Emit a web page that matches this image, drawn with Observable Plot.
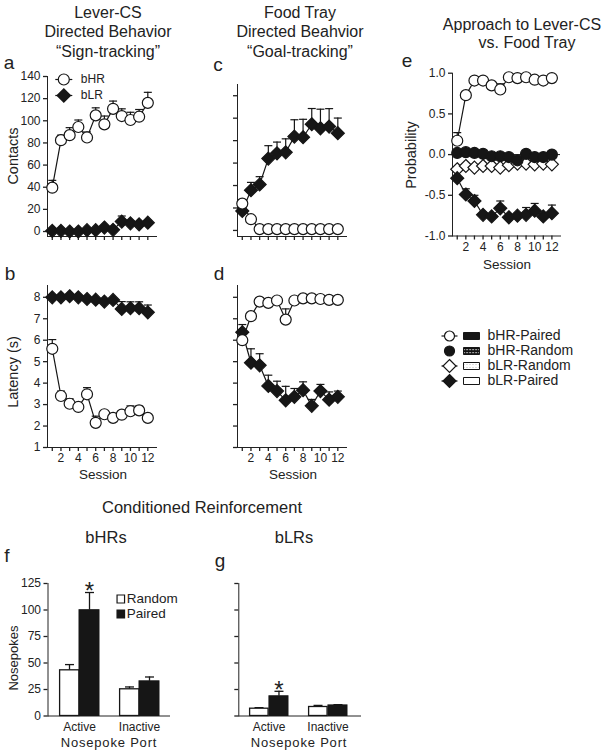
<!DOCTYPE html>
<html>
<head>
<meta charset="utf-8">
<script src="https://cdn.jsdelivr.net/npm/d3@7"></script>
<script src="https://cdn.jsdelivr.net/npm/@observablehq/plot@0.6"></script>
<style>
  body { margin: 0; background: #fff; }
  #root { position: relative; width: 612px; height: 754px; overflow: hidden; background: #fff;
          font-family: Arial, "Liberation Sans", Helvetica, sans-serif; color: #222; }
  .lbl { position: absolute; white-space: nowrap; line-height: 1; transform: translate(-50%, -50%); }
</style>
</head>
<body>
<svg width="0" height="0" style="position:absolute">
  <defs>
    <pattern id="check" width="3" height="3" patternUnits="userSpaceOnUse">
      <rect width="3" height="3" fill="#111"></rect>
      <rect x="1" y="1" width="1.2" height="1.2" fill="#fff"></rect>
    </pattern>
    <pattern id="dots" width="3" height="3" patternUnits="userSpaceOnUse">
      <rect width="3" height="3" fill="#fff"></rect>
      <rect x="1" y="1" width="1" height="1" fill="#bbb"></rect>
    </pattern>
  </defs>
</svg>
<div id="root"></div>
<script>
// ---------------- DATA ----------------
const sessions = [1, 2, 3, 4, 5, 6, 7, 8, 9, 10, 11, 12];

// a: Lever-CS contacts
const leverContactsHR    = [39.6, 82.5, 87, 94.4, 84.9, 104.9, 96.8, 110.8, 104.3, 100.7, 103.7, 116.2];
const leverContactsHRErr = [6.6, 4.5, 6.8, 6.3, 5, 6.8, 7.5, 7, 6.5, 7, 6.5, 9.5];
const leverContactsLR    = [0.6, 0.6, 0, 0, 1.2, 1.2, 3.6, 1.5, 9, 7.4, 6.5, 8];
const leverContactsLRErr = [1, 1, 1, 1, 1, 1.5, 1.5, 1.5, 5, 2, 2, 2];

// b: Lever-CS latency
const leverLatencyHR    = [5.6, 3.4, 3.04, 2.89, 3.48, 2.15, 2.55, 2.38, 2.53, 2.69, 2.73, 2.38];
const leverLatencyHRErr = [0.43, 0.23, 0.23, 0.1, 0.31, 0.31, 0.1, 0.1, 0.1, 0.25, 0.2, 0.15];
const leverLatencyLR    = [8.0, 8.0, 8.05, 8.0, 7.92, 7.89, 7.8, 7.88, 7.46, 7.49, 7.49, 7.3];
const leverLatencyLRErr = [0.05, 0.05, 0.05, 0.05, 0.05, 0.05, 0.05, 0.05, 0.34, 0.3, 0.3, 0.34];

// c: Food tray contacts
const trayContactsHR    = [23.9, 10, 1.2, 1.2, 1.2, 1.2, 1.2, 1.2, 1.2, 1.2, 1.2, 1.2];
const trayContactsHRErr = [3.6, 1, 0.5, 0.5, 0.5, 0.5, 0.5, 0.5, 0.5, 0.5, 0.5, 0.5];
const trayContactsLR    = [17.3, 35.8, 40.9, 64, 68.7, 69.6, 83.6, 83, 94.6, 91, 92.5, 86.6];
const trayContactsLRErr = [3, 7, 7, 11.5, 10, 12, 15, 16, 14, 17, 16, 13.5];

// d: Food tray latency
const trayLatencyHR    = [6.0, 7.12, 7.8, 7.74, 7.85, 6.96, 7.85, 7.95, 7.95, 7.92, 7.88, 7.88];
const trayLatencyHRErr = [0.1, 0.05, 0.05, 0.05, 0.05, 0.5, 0.05, 0.05, 0.05, 0.05, 0.05, 0.05];
const trayLatencyLR    = [6.37, 4.95, 4.83, 3.87, 3.63, 3.2, 3.36, 3.67, 2.94, 3.63, 3.23, 3.36];
const trayLatencyLRErr = [0.36, 0.65, 0.54, 0.5, 0.46, 0.65, 0.39, 0.39, 0.3, 0.31, 0.36, 0.27];

// e: Probability
const probHRPaired    = [0.17, 0.73, 0.91, 0.91, 0.85, 0.8, 0.95, 0.94, 0.95, 0.92, 0.91, 0.94];
const probHRPairedErr = [0.1, 0.02, 0.02, 0.02, 0.02, 0.07, 0.02, 0.02, 0.02, 0.02, 0.02, 0.02];
const probHRRandom    = [0.02, 0.03, 0.02, 0.01, -0.02, -0.02, -0.03, -0.07, 0.01, -0.03, -0.03, 0];
const probLRRandom    = [-0.18, -0.14, -0.16, -0.14, -0.14, -0.16, -0.13, -0.11, -0.11, -0.12, -0.11, -0.12];
const probLRPaired    = [-0.29, -0.49, -0.57, -0.74, -0.76, -0.66, -0.77, -0.75, -0.74, -0.69, -0.76, -0.72];
const probLRPairedErr = [0.02, 0.07, 0.07, 0.03, 0.03, 0.09, 0.03, 0.03, 0.09, 0.09, 0.03, 0.1];

const legendLabels = ["bHR-Paired", "bHR-Random", "bLR-Random", "bLR-Paired"];

// f, g: Conditioned reinforcement
const ports = ["Active", "Inactive"];
const hrRandom = [43.1, 25.2], hrRandomErr = [5.4, 2.2];
const hrPaired = [99.8, 32.7], hrPairedErr = [16.7, 4.1];
const lrRandom = [6.9, 8.5],   lrRandomErr = [1.0, 1.5];
const lrPaired = [18.6, 10.0], lrPairedErr = [4.7, 0.7];
const significant = [true, false];
const barGroups = ["Random", "Paired"];

// ---------------- HELPERS ----------------
const W = 612, H = 754;
const INK = "#161616";
const root = document.getElementById("root");
const font = "Arial, 'Liberation Sans', Helvetica, sans-serif";

function base(l, r, t, b) {
  return {
    width: W, height: H,
    marginLeft: l, marginRight: W - r, marginTop: t, marginBottom: H - b,
    style: {fontFamily: font, fontSize: "12px", color: "#222", background: "transparent", overflow: "visible"}
  };
}
function place(svg) {
  svg.style.position = "absolute"; svg.style.left = "0px"; svg.style.top = "0px";
  // slightly heavier axis strokes, as in the reference
  d3.select(svg).selectAll('[aria-label$="axis tick"], [aria-label$="axis line"]').attr("stroke-width", 1.3);
  root.append(svg);
}
function label(text, x, y, size, opt = {}) {
  const d = document.createElement("div");
  d.className = "lbl"; d.textContent = text;
  d.style.left = x + "px"; d.style.top = y + "px"; d.style.fontSize = size + "px";
  if (opt.rotate) d.style.transform = "translate(-50%,-50%) rotate(-90deg)";
  if (opt.spacing) d.style.letterSpacing = opt.spacing + "px";
  root.append(d);
}
const diamondOf = (h) => ({draw(ctx) { ctx.moveTo(0, -h); ctx.lineTo(h, 0); ctx.lineTo(0, h); ctx.lineTo(-h, 0); ctx.closePath(); }});
const capOf = (w) => ({draw(ctx) { ctx.moveTo(-w, 0); ctx.lineTo(w, 0); }});
const segOf = (w) => ({draw(ctx) { ctx.moveTo(-w, 0); ctx.lineTo(w, 0); }});
const rectOf = (w, h) => ({draw(ctx) { ctx.rect(-w / 2, -h / 2, w, h); }});
const diamond = diamondOf(6.5);
const cap = capOf(4);

const rows = (v, e) => sessions.map((s, i) => ({s, v: v[i], e: e ? e[i] : 0}));

function seriesMarks(list) {
  const lines = [], errs = [], dots = [];
  for (const {data, shape, fill} of list) {
    lines.push(Plot.line(data, {x: "s", y: "v", stroke: INK, strokeWidth: 1.2}));
    const ed = data.filter(d => d.e > 0);
    errs.push(Plot.ruleX(ed, {x: "s", y1: "v", y2: d => d.v + d.e, stroke: INK, strokeWidth: 1.2}));
    errs.push(Plot.dot(ed, {x: "s", y: d => d.v + d.e, symbol: cap, r: 3, fill: "none", stroke: INK, strokeWidth: 1.2}));
    dots.push(Plot.dot(data, {x: "s", y: "v", symbol: shape === "circle" ? "circle" : diamond, r: 5.5,
                              fill, stroke: INK, strokeWidth: 1.2}));
  }
  return [...lines, ...errs, ...dots];
}

const even = d => (d % 2 === 0 ? String(d) : "");
const none = () => "";

function linePanel({l, r, t, b, ydom, yticks, ylabels, xlabels, series, extra = []}) {
  return Plot.plot({
    ...base(l, r, t, b),
    x: {domain: [0.45, 13], ticks: sessions, tickSize: 4, tickPadding: 2, tickFormat: xlabels ? even : none, line: true, label: null},
    y: {domain: ydom, ticks: yticks, tickSize: 4, tickPadding: 3, tickFormat: ylabels || none, line: true, label: null},
    marks: [...extra, ...seriesMarks(series)]
  });
}

// ---------------- PANEL a ----------------
place(linePanel({
  l: 47, r: 156, t: 76, b: 236, ydom: [-4.5, 140], yticks: d3.range(0, 141, 20), ylabels: d => String(d), xlabels: false,
  series: [
    {data: rows(leverContactsHR, leverContactsHRErr), shape: "circle", fill: "white"},
    {data: rows(leverContactsLR, leverContactsLRErr), shape: "diamond", fill: INK}
  ]
}));
// legend a
{
  const lab = ["bHR", "bLR"];
  place(Plot.plot({
    ...base(63.3, 120, 71, 103),
    y: {type: "band", domain: lab, range: [71, 103], padding: 0, axis: null},
    marks: [
      Plot.dot(lab, {y: d => d, frameAnchor: "left", symbol: segOf(8.5), stroke: INK, strokeWidth: 1.2}),
      Plot.dot([lab[0]], {y: d => d, frameAnchor: "left", symbol: "circle", r: 5.5, fill: "white", stroke: INK, strokeWidth: 1.2}),
      Plot.dot([lab[1]], {y: d => d, frameAnchor: "left", symbol: diamond, r: 5, fill: INK, stroke: INK}),
      Plot.text(lab, {y: d => d, text: d => d, frameAnchor: "left", dx: 17, textAnchor: "start", fontSize: 12})
    ]
  }));
}

// ---------------- PANEL b ----------------
place(linePanel({
  l: 47, r: 156, t: 285, b: 447, ydom: [1, 8.55], yticks: d3.range(1, 9), ylabels: d => String(d), xlabels: true,
  series: [
    {data: rows(leverLatencyHR, leverLatencyHRErr), shape: "circle", fill: "white"},
    {data: rows(leverLatencyLR, leverLatencyLRErr), shape: "diamond", fill: INK}
  ]
}));

// ---------------- PANEL c ----------------
place(linePanel({
  l: 237, r: 346, t: 84, b: 236, ydom: [-5.4, 130], yticks: d3.range(0, 121, 20), ylabels: null, xlabels: false,
  series: [
    {data: rows(trayContactsLR, trayContactsLRErr), shape: "diamond", fill: INK},
    {data: rows(trayContactsHR, trayContactsHRErr), shape: "circle", fill: "white"}
  ]
}));

// ---------------- PANEL d ----------------
place(linePanel({
  l: 237, r: 346, t: 285, b: 447, ydom: [1, 8.55], yticks: d3.range(1, 9), ylabels: null, xlabels: true,
  series: [
    {data: rows(trayLatencyLR, trayLatencyLRErr), shape: "diamond", fill: INK},
    {data: rows(trayLatencyHR, trayLatencyHRErr), shape: "circle", fill: "white"}
  ]
}));

// ---------------- PANEL e ----------------
place(linePanel({
  l: 452, r: 560, t: 72.7, b: 235.5, ydom: [-1, 1], yticks: [-1, -0.5, 0, 0.5, 1], ylabels: d => d.toFixed(1), xlabels: true,
  extra: [Plot.ruleY([0], {stroke: INK, strokeWidth: 1})],
  series: [
    {data: rows(probLRRandom, null), shape: "diamond", fill: "white"},
    {data: rows(probHRRandom, null), shape: "circle", fill: INK},
    {data: rows(probLRPaired, probLRPairedErr), shape: "diamond", fill: INK},
    {data: rows(probHRPaired, probHRPairedErr), shape: "circle", fill: "white"}
  ]
}));

// legend e
{
  const markerShape = ["circle", "circle", "diamond", "diamond"];
  const markerFill = ["white", INK, "white", INK];
  const hasLine = [true, false, true, true];
  const swatchFill = [INK, "url(#check)", "url(#dots)", "white"];
  const marks = [];
  legendLabels.forEach((lab, i) => {
    const row = [lab];
    if (hasLine[i]) marks.push(Plot.dot(row, {y: d => d, frameAnchor: "left", symbol: segOf(8), stroke: INK, strokeWidth: 1.2}));
    marks.push(Plot.dot(row, {y: d => d, frameAnchor: "left", symbol: markerShape[i] === "circle" ? "circle" : diamondOf(6.5),
                              r: 5, fill: markerFill[i], stroke: INK, strokeWidth: 1.2}));
    marks.push(Plot.dot(row, {y: d => d, frameAnchor: "left", dx: 22, symbol: rectOf(16, 7), r: 4, fill: swatchFill[i], stroke: INK, strokeWidth: 1}));
    marks.push(Plot.text(row, {y: d => d, text: d => d, frameAnchor: "left", dx: 38, textAnchor: "start", fontSize: 14}));
  });
  place(Plot.plot({
    ...base(449, 600, 327.5, 387.5),
    y: {type: "band", domain: legendLabels, range: [327.5, 387.5], padding: 0, axis: null},
    marks
  }));
}

// ---------------- PANELS f, g ----------------
function barPanel({l, r, range, random, randomErr, paired, pairedErr, ylabels}) {
  const rd = ports.map((p, i) => ({p, v: random[i], e: randomErr[i]}));
  const pd = ports.map((p, i) => ({p, v: paired[i], e: pairedErr[i], sig: significant[i]}));
  const half = (range[1] - range[0]) / 5;
  return Plot.plot({
    ...base(l, r, 583, 715.5),
    x: {type: "band", domain: ports, range, paddingInner: 1 / 3, paddingOuter: 0, tickSize: 0, tickPadding: 6, line: true, label: null},
    y: {domain: [0, 125], ticks: [0, 25, 50, 75, 100, 125], tickSize: 4, tickPadding: 3, tickFormat: ylabels ? (d => String(d)) : none, line: true, label: null},
    marks: [
      Plot.ruleX(rd, {x: "p", y1: "v", y2: d => d.v + d.e, dx: -half / 2, stroke: INK, strokeWidth: 1.3}),
      Plot.dot(rd, {x: "p", y: d => d.v + d.e, dx: -half / 2, symbol: capOf(4.5), r: 3, fill: "none", stroke: INK, strokeWidth: 1.3}),
      Plot.ruleX(pd, {x: "p", y1: "v", y2: d => d.v + d.e, dx: half / 2, stroke: INK, strokeWidth: 1.3}),
      Plot.dot(pd, {x: "p", y: d => d.v + d.e, dx: half / 2, symbol: capOf(4.5), r: 3, fill: "none", stroke: INK, strokeWidth: 1.3}),
      Plot.barY(rd, {x: "p", y: "v", insetRight: half, insetLeft: 0.6, fill: "white", stroke: INK, strokeWidth: 1.3}),
      Plot.barY(pd, {x: "p", y: "v", insetLeft: half, fill: INK, stroke: INK, strokeWidth: 1}),
      Plot.text(pd.filter(d => d.sig), {x: "p", y: d => d.v + d.e, dx: half / 2, dy: -1, text: () => "*", fontSize: 24})
    ]
  });
}
place(barPanel({l: 47.5, r: 169, range: [59, 159], random: hrRandom, randomErr: hrRandomErr,
                paired: hrPaired, pairedErr: hrPairedErr, ylabels: true}));
place(barPanel({l: 238.3, r: 360, range: [248.3, 348], random: lrRandom, randomErr: lrRandomErr,
                paired: lrPaired, pairedErr: lrPairedErr, ylabels: false}));

// legend f
{
  const fills = ["white", INK];
  place(Plot.plot({
    ...base(120.3, 200, 590.5, 620.5),
    y: {type: "band", domain: barGroups, range: [590.5, 620.5], padding: 0, axis: null},
    marks: [
      ...barGroups.map((g, i) => Plot.dot([g], {y: d => d, frameAnchor: "left", symbol: rectOf(7.5, 8), r: 4, fill: fills[i], stroke: INK, strokeWidth: 1.2})),
      Plot.text(barGroups, {y: d => d, text: d => d, frameAnchor: "left", dx: 6, textAnchor: "start", fontSize: 13.5})
    ]
  }));
}

// ---------------- TEXT ----------------
label("Lever-CS", 108, 13, 16);
label("Directed Behavior", 108, 32, 16);
label("\u201CSign-tracking\u201D", 108, 52, 16);
label("Food Tray", 300, 13, 16);
label("Directed Beahvior", 300, 32, 16);
label("\u201CGoal-tracking\u201D", 300, 52, 16);
label("Approach to Lever-CS", 522, 25, 16);
label("vs. Food Tray", 527, 43, 16);

label("a", 9, 62, 19);
label("c", 218, 64, 19);
label("e", 407, 60, 19);
label("b", 10, 273, 19);
label("d", 219, 273, 19);
label("f", 7, 555, 19);
label("g", 220, 560, 19);

label("Contacts", 13, 156, 14.5, {rotate: true});
label("Latency (s)", 13, 372, 14.5, {rotate: true});
label("Probability", 411, 155, 14.5, {rotate: true});
label("Session", 103, 475, 13.5);
label("Session", 293, 475, 13.5);
label("Session", 507, 265, 13.5);

label("Conditioned Reinforcement", 202, 507, 16.5);
label("bHRs", 106, 537, 16.5);
label("bLRs", 294, 537, 16.5);
label("Nosepokes", 13, 658, 13, {rotate: true});
label("Nosepoke Port", 109, 742, 13, {spacing: 0.8});
label("Nosepoke Port", 299, 742, 13, {spacing: 0.8});
</script>
</body>
</html>
